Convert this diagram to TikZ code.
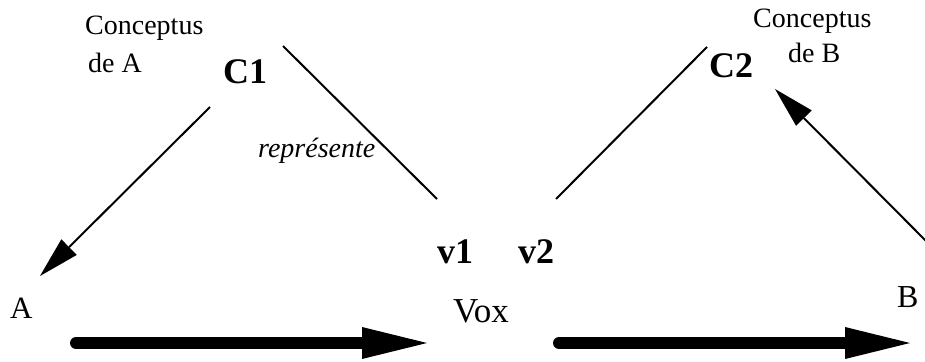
\documentclass[tikz,border=0pt]{standalone}
\usepackage{fontspec}
\setmainfont{Liberation Serif}
\usetikzlibrary{arrows.meta}
\begin{document}
\begin{tikzpicture}[x=1pt,y=-1pt,
  lbl/.style={anchor=base west, inner sep=0pt, font=\fontsize{28}{30}\selectfont},
  bigb/.style={anchor=base west, inner sep=0pt, font=\fontsize{36}{38}\selectfont\bfseries},
  plainline/.style={line width=2pt},
  thinarrow/.style={line width=2pt, -{Triangle[length=41pt,width=22pt,line width=0pt]}},
  fatarrow/.style={line width=12pt, line cap=round, -{Triangle[length=65pt,width=32pt,line width=0pt]}}]
\useasboundingbox (0,0) rectangle (925,361);
% texts
\node[lbl] (cptA) at (85,35) {Conceptus};
\node[lbl] (deA) at (88,72) {de A};
\node[bigb] (C1) at (223,83) {C1};
\node[lbl, font=\fontsize{28}{30}\selectfont\itshape] (rep) at (258,157) {représente};
\node[bigb] (v1) at (437,263) {v1};
\node[bigb] (v2) at (518,263) {v2};
\node[lbl, font=\fontsize{35}{37}\selectfont] (Vox) at (453,322) {Vox};
\node[lbl, font=\fontsize{31}{33}\selectfont] (A) at (10,318) {A};
\node[lbl, font=\fontsize{32}{34}\selectfont] (B) at (897,307) {B};
\node[lbl] (cptB) at (753,28) {Conceptus};
\node[lbl] (deB) at (788,63) {de B};
\node[bigb] (C2) at (709,77) {C2};
% connector ends
\coordinate (c1a) at (210,107);
\coordinate (aa) at (40,276);
\coordinate (c1r) at (283,46);
\coordinate (v1t) at (437,199);
\coordinate (v2t) at (556,199);
\coordinate (c2l) at (707,47);
\coordinate (bb) at (927,242);
\coordinate (c2b) at (775,89);
\coordinate (aL) at (76,343);
\coordinate (voxL) at (427,343);
\coordinate (voxR) at (559,343);
\coordinate (bR) at (910,343);
% connectors
\draw[thinarrow] (c1a) -- (aa);
\draw[plainline] (c1r) -- (v1t);
\draw[plainline] (v2t) -- (c2l);
\draw[thinarrow] (bb) -- (c2b);
\draw[fatarrow] (aL) -- (voxL);
\draw[fatarrow] (voxR) -- (bR);
\end{tikzpicture}
\end{document}
